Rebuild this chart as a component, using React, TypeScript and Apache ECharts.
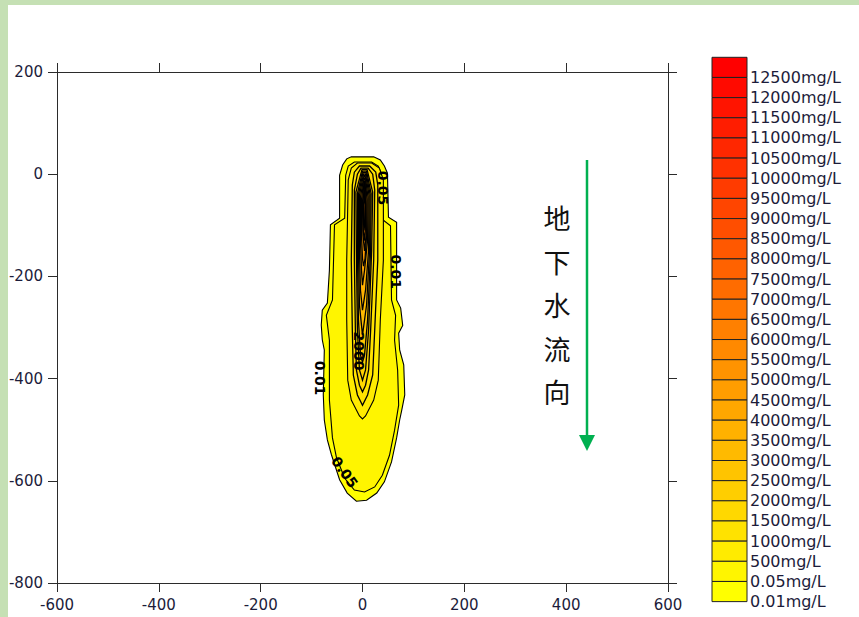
import React, { useEffect, useRef } from 'react';
import * as echarts from 'echarts';

// Legend levels (mg/L), from lowest to highest
const levels: number[] = [
  0.01, 0.05, 500, 1000, 1500, 2000, 2500, 3000, 3500, 4000, 4500, 5000, 5500,
  6000, 6500, 7000, 7500, 8000, 8500, 9000, 9500, 10000, 10500, 11000, 11500,
  12000, 12500,
];

const xTicks = { min: -600, max: 600, step: 200 };
const yTicks = { min: -800, max: 200, step: 200 };

// Contour outlines (data coordinates, metres)
const c001: number[][] = [[-22,34],[22,34],[35,28],[43,16],[49,2],[51,-84],[67,-94],[67,-246],[75,-262],[79,-296],[71,-311],[73,-344],[81,-373],[83,-432],[77,-462],[73,-481],[67,-516],[57,-563],[43,-602],[28,-624],[8,-638],[-12,-640],[-30,-624],[-45,-598],[-61,-549],[-69,-520],[-75,-481],[-77,-432],[-75,-344],[-79,-324],[-81,-295],[-79,-266],[-69,-252],[-65,-188],[-63,-99],[-45,-86],[-45,-2],[-39,18],[-31,30]];
const c005: number[][] = [[-16,24],[18,24],[31,16],[37,2],[41,-90],[55,-101],[57,-246],[65,-276],[63,-325],[69,-383],[71,-452],[63,-501],[53,-550],[39,-589],[24,-612],[4,-622],[-16,-618],[-35,-595],[-51,-555],[-59,-516],[-65,-442],[-65,-325],[-71,-276],[-59,-246],[-55,-99],[-35,-86],[-33,-2],[-28,16]];
const c500: number[][] = [[-10,22],[18,22],[33,12],[41,-11],[41,-168],[35,-285],[31,-403],[22,-442],[6,-473],[0,-479],[-6,-473],[-22,-442],[-29,-403],[-31,-285],[-31,-168],[-28,-11],[-22,12]];
const c1000: number[][] = [[-6,16],[14,16],[26,4],[30,-21],[30,-168],[24,-305],[20,-393],[10,-432],[0,-452],[-10,-432],[-18,-393],[-20,-305],[-22,-168],[-20,-21],[-16,4]];
const c1500: number[][] = [[-3,12],[11,12],[20,0],[24,-31],[22,-168],[16,-305],[12,-383],[6,-413],[0,-426],[-6,-413],[-12,-383],[-14,-305],[-16,-168],[-16,-31],[-10,0]];
const c2000: number[][] = [[-1,9],[9,9],[20,-35],[18,-148],[12,-305],[6,-383],[0,-403],[-6,-383],[-10,-305],[-12,-148],[-13,-35]];
const c2500: number[][] = [[0,6],[8,6],[17,-38],[16,-148],[10,-285],[4,-354],[0,-368],[-4,-354],[-8,-285],[-10,-148],[-10,-38]];
const c3000: number[][] = [[1,3],[7,3],[15,-40],[14,-148],[8,-256],[0,-315],[-6,-256],[-8,-148],[-8,-40]];
const c3500: number[][] = [[2,0],[6,0],[13,-42],[12,-148],[6,-227],[0,-266],[-4,-227],[-6,-148],[-6,-42]];
const c4000: number[][] = [[3,-3],[5,-3],[11,-45],[10,-129],[4,-188],[0,-217],[-2,-188],[-4,-129],[-4,-45]];
const c4500: number[][] = [[3,-8],[5,-8],[9,-50],[8,-120],[5,-165],[2,-180],[0,-165],[-2,-120],[-2,-50]];
const c5000: number[][] = [[3,-14],[5,-14],[7,-55],[7,-120],[4,-150],[1,-120],[0,-55]];
const c5500: number[][] = [[3.5,-20],[4.5,-20],[6,-60],[5.5,-110],[3.5,-130],[1.5,-110],[1,-60]];
const c6000: number[][] = [[4,-30],[5,-60],[4.5,-95],[3,-110],[2,-95],[2,-60]];

const contours = [
  { level: 0.01, points: c001 },
  { level: 0.05, points: c005 },
  { level: 500, points: c500 },
  { level: 1000, points: c1000 },
  { level: 1500, points: c1500 },
  { level: 2000, points: c2000 },
  { level: 2500, points: c2500 },
  { level: 3000, points: c3000 },
  { level: 3500, points: c3500 },
  { level: 4000, points: c4000 },
  { level: 4500, points: c4500 },
  { level: 5000, points: c5000 },
  { level: 5500, points: c5500 },
  { level: 6000, points: c6000 },
];

// Contour labels
const labelTexts = ['0.05', '0.01', '0.01', '0.05', '2000'];
const labelX = [41, 65, -83, -35, -6];
const labelY = [-27, -191, -399, -583, -346];
const labelRot = [-Math.PI / 2, -Math.PI / 2, -Math.PI / 2, -0.95, -Math.PI / 2];

const flowText = ['地', '下', '水', '流', '向'];

const N = levels.length;
const colorOfIndex = (i: number) => `rgb(255,${Math.round(255 * (1 - i / (N - 1)))},0)`;
const colorOfLevel = (lv: number) => colorOfIndex(levels.indexOf(lv));

const AXIS_COLOR = '#2b2b2b';
const TEXT_COLOR = '#1c1c3a';

function buildOption() {
  const axisCommon = {
    type: 'value',
    axisLine: { show: true, onZero: false, lineStyle: { color: AXIS_COLOR, width: 1 } },
    axisTick: { show: true, inside: false, length: 9, lineStyle: { color: AXIS_COLOR, width: 1 } },
    splitLine: { show: false },
  };
  const labelStyle = {
    fontFamily: 'DejaVu Sans',
    fontSize: 15,
    color: TEXT_COLOR,
    margin: 14,
    showMinLabel: true,
    showMaxLabel: true,
  };

  const legendTop = 57.3;
  const boxH = 20.16;
  const legendEls: any[] = [];
  for (let k = 0; k < N; k++) {
    const idx = N - 1 - k;
    legendEls.push({
      type: 'rect',
      shape: { x: 712, y: legendTop + k * boxH, width: 35, height: boxH },
      style: { fill: colorOfIndex(idx), stroke: '#222', lineWidth: 1 },
    });
    legendEls.push({
      type: 'text',
      x: 750,
      y: legendTop + (k + 1) * boxH,
      style: {
        text: `${levels[idx]}mg/L`,
        fill: TEXT_COLOR,
        fontFamily: 'DejaVu Sans',
        fontSize: 16,
        align: 'left',
        verticalAlign: 'middle',
      },
    });
  }

  return {
    animation: false,
    backgroundColor: '#ffffff',
    grid: { left: 57, top: 72, width: 611, height: 511, containLabel: false },
    xAxis: [
      { ...axisCommon, position: 'bottom', min: xTicks.min, max: xTicks.max, interval: xTicks.step, axisLabel: labelStyle },
      { ...axisCommon, position: 'top', min: xTicks.min, max: xTicks.max, interval: xTicks.step, axisLabel: { show: false } },
    ],
    yAxis: [
      { ...axisCommon, position: 'left', min: yTicks.min, max: yTicks.max, interval: yTicks.step, axisLabel: labelStyle },
      { ...axisCommon, position: 'right', min: yTicks.min, max: yTicks.max, interval: yTicks.step, axisLabel: { show: false } },
    ],
    series: [
      {
        type: 'custom',
        coordinateSystem: 'cartesian2d',
        xAxisIndex: 0,
        yAxisIndex: 0,
        silent: true,
        data: contours.map((c) => c.points[0]),
        renderItem: (params: any, api: any) => {
          const c = contours[params.dataIndex];
          const pts = c.points.map((p) => api.coord(p));
          return {
            type: 'polygon',
            shape: { points: pts },
            style: {
              fill: colorOfLevel(c.level),
              stroke: '#000',
              lineWidth: c.level >= 1000 ? 1.3 : 1.1,
            },
          };
        },
        z: 2,
      },
      {
        type: 'custom',
        coordinateSystem: 'cartesian2d',
        xAxisIndex: 0,
        yAxisIndex: 0,
        silent: true,
        data: labelTexts.map((_, i) => [labelX[i], labelY[i]]),
        renderItem: (params: any, api: any) => {
          const i = params.dataIndex;
          const p = api.coord([labelX[i], labelY[i]]);
          return {
            type: 'text',
            x: p[0],
            y: p[1],
            rotation: labelRot[i],
            style: {
              text: labelTexts[i],
              fill: '#000',
              fontFamily: 'DejaVu Sans',
              fontSize: 14,
              fontWeight: 'bold',
              align: 'center',
              verticalAlign: 'middle',
            },
          };
        },
        z: 3,
      },
    ],
    graphic: [
      { type: 'rect', shape: { x: 0, y: 0, width: 859, height: 5 }, style: { fill: '#c5e0b4' }, z: 0 },
      { type: 'rect', shape: { x: 0, y: 0, width: 8, height: 617 }, style: { fill: '#c5e0b4' }, z: 0 },
      {
        type: 'text',
        x: 557,
        y: 196,
        style: {
          text: flowText.join('\n'),
          fill: '#111',
          fontFamily: '"Noto Sans CJK SC"',
          fontSize: 27,
          lineHeight: 43.5,
          align: 'center',
          verticalAlign: 'top',
        },
        z: 5,
      },
      {
        type: 'line',
        shape: { x1: 587, y1: 160, x2: 587, y2: 438 },
        style: { stroke: '#00b050', lineWidth: 2.5 },
        z: 5,
      },
      {
        type: 'polygon',
        shape: { points: [[579, 435], [595, 435], [587, 451]] },
        style: { fill: '#00b050' },
        z: 5,
      },
      ...legendEls,
    ],
  };
}

export default function App() {
  const ref = useRef<HTMLDivElement>(null);
  useEffect(() => {
    if (!ref.current) return;
    const chart = echarts.init(ref.current, null, { renderer: 'svg' });
    chart.setOption(buildOption() as any);
    return () => chart.dispose();
  }, []);
  return (
    <div
      ref={ref}
      style={{ position: 'absolute', left: 0, top: 0, width: 859, height: 617, background: '#fff' }}
    />
  );
}
